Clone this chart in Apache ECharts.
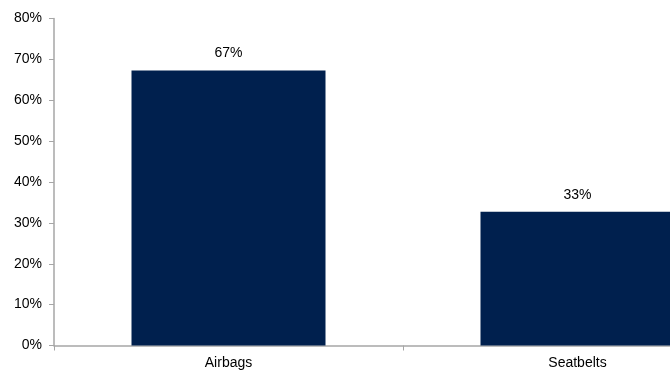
<!DOCTYPE html>
<html><head><meta charset="utf-8">
<script src="https://cdn.jsdelivr.net/npm/echarts@6/dist/echarts.min.js"></script>
<style>html,body{margin:0;padding:0;background:#fff}#c{width:670px;height:374px}</style>
</head><body><div id="c"></div>
<script>
const categories = ['Airbags', 'Seatbelts'];
const values = [67.3, 32.7];
const yTicks = [0, 10, 20, 30, 40, 50, 60, 70, 80];

const chart = echarts.init(document.getElementById('c'), null, {renderer: 'canvas'});
chart.setOption({
  animation: false,
  grid: {left: 54, top: 18.5, right: -82, bottom: 28.5, outerBoundsMode: 'none', containLabel: false},
  xAxis: {
    type: 'category', data: categories,
    axisLine: {lineStyle: {color: '#a6a6a6', width: 1.5}},
    axisTick: {show: true, length: 5, lineStyle: {color: '#a6a6a6'}},
    axisLabel: {color: '#000', fontSize: 14, fontFamily: 'Liberation Sans, Arial', margin: 11}
  },
  yAxis: {
    type: 'value', min: yTicks[0], max: yTicks[yTicks.length-1], interval: 10,
    axisLine: {show: true, lineStyle: {color: '#a6a6a6', width: 1.5}},
    axisTick: {show: true, length: 5, lineStyle: {color: '#a6a6a6'}},
    splitLine: {show: false},
    axisLabel: {color: '#000', fontSize: 14, fontFamily: 'Liberation Sans, Arial', margin: 12, formatter: v => v + '%'}
  },
  series: [{
    type: 'bar', data: values, barWidth: 194,
    itemStyle: {color: '#00204e'},
    label: {show: true, position: 'top', distance: 10, color: '#000', fontSize: 14, fontFamily: 'Liberation Sans, Arial',
      formatter: p => Math.round(p.value) + '%'}
  }]
});
</script></body></html>
